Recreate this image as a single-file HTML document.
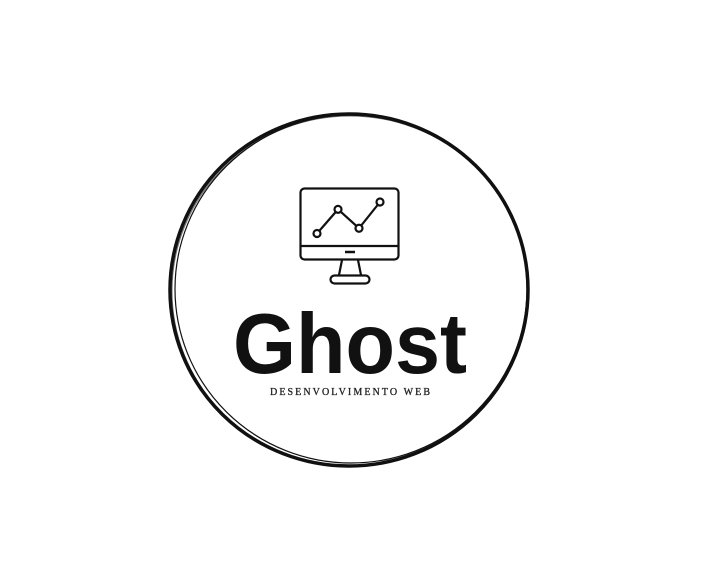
<!DOCTYPE html>
<html><head><meta charset="utf-8"><style>
html,body{margin:0;padding:0;background:#fff;width:710px;height:561px;overflow:hidden}
svg{display:block}
</style></head><body>
<svg width="710" height="561" viewBox="0 0 710 561">
  <g fill="none" stroke="#111">
    <ellipse cx="349" cy="290" rx="179" ry="176" stroke-width="3.5"/>
    <ellipse cx="351" cy="289" rx="176" ry="174" stroke-width="1.2"/>
    <ellipse cx="350" cy="291" rx="178" ry="175" stroke-width="1" opacity="0.6"/>
  </g>
  <g fill="none" stroke="#111" stroke-width="2.2">
    <rect x="300.5" y="188.5" width="98" height="71" rx="4"/>
    <line x1="301" y1="246" x2="398" y2="246"/>
    <line x1="345" y1="252" x2="355" y2="252" stroke-width="2.5"/>
    <path d="M342 260 L339 275 M358 260 L361 275"/>
    <rect x="330.5" y="275.5" width="39" height="8" rx="4"/>
    <g id="spark"></g>
  </g>
  <text x="350" y="373" text-anchor="middle" font-family="Liberation Sans, sans-serif" font-weight="bold" font-size="85" fill="#111" textLength="234" lengthAdjust="spacingAndGlyphs">Ghost</text>
  <text x="350" y="395" text-anchor="middle" font-family="Liberation Serif, serif" font-size="10" fill="#222" stroke="#222" stroke-width="0.3" textLength="160" lengthAdjust="spacing">DESENVOLVIMENTO WEB</text>
</svg>
<script>
const pointIndex = [0, 1, 2, 3];
const pointValues = [1, 3.3, 1.5, 4];
const ns = 'http://www.w3.org/2000/svg';
const xScale = i => 317 + i * 21;
const yScale = v => 244 - v * 10.5;
const g = document.getElementById('spark');
const pl = document.createElementNS(ns, 'polyline');
pl.setAttribute('points', pointIndex.map((i, k) => xScale(i) + ',' + yScale(pointValues[k])).join(' '));


g.appendChild(pl);
pointIndex.forEach((i, k) => {
  const c = document.createElementNS(ns, 'circle');
  c.setAttribute('cx', xScale(i));
  c.setAttribute('cy', yScale(pointValues[k]));
  c.setAttribute('r', 3.5);
  c.setAttribute('fill', '#fff');
  
  
  g.appendChild(c);
});
</script>
</body></html>
